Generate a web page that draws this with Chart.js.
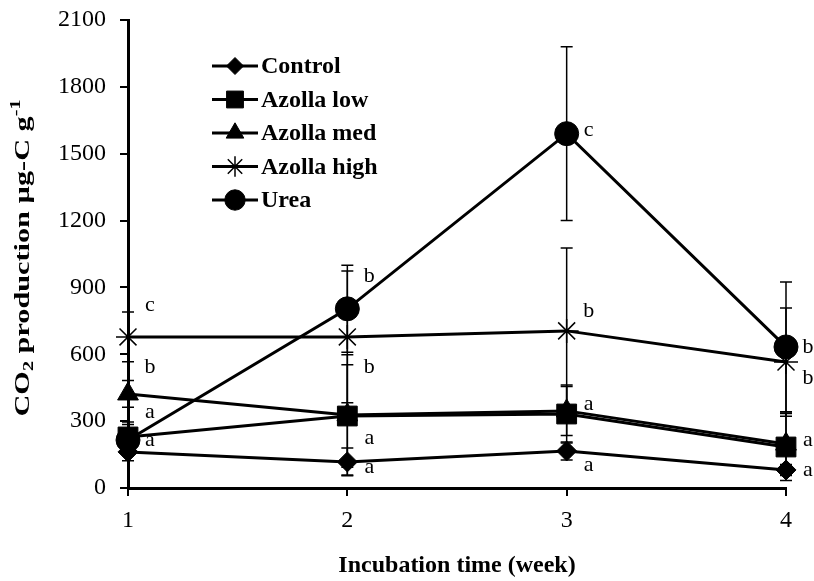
<!DOCTYPE html>
<html>
<head>
<meta charset="utf-8">
<script src="https://cdn.jsdelivr.net/npm/chart.js@4.4.1/dist/chart.umd.min.js"></script>
<style>
  body { margin: 0; background: #fff; }
  #box { width: 814px; height: 581px; position: relative; }
</style>
</head>
<body>
<div id="box"><canvas id="co2"></canvas></div>
<script>
// weekly CO2 production
const weeks = ['1', '2', '3', '4'];

const control = [162, 117, 166, 81];
const azollaLow = [229, 323, 332, 184];
const azollaMed = [422, 328, 346, 197];
const azollaHigh = [678, 678, 705, 565];
const urea = [215, 804, 1590, 633];

// +/- error (half bar length)
const controlErr = [40, 62, 40, 25];
const azollaLowErr = [67, 230, 130, 150];
const azollaMedErr = [60, 270, 110, 140];
const azollaHighErr = [112, 296, 372, 243];
const ureaErr = [70, 195, 390, 291];

// significance letters: week, value where letter sits, letter
const sigWeek = [1, 1, 1, 1, 2, 2, 2, 2, 3, 3, 3, 3, 4, 4, 4, 4];
const sigValue = [821, 543, 341, 215, 951, 543, 224, 94, 1606, 794, 377, 103, 633, 494, 215, 81];
const sigLetter = ['c', 'b', 'a', 'a', 'b', 'b', 'a', 'a', 'c', 'b', 'a', 'a', 'b', 'b', 'a', 'a'];

const serif = "'Liberation Serif', 'Times New Roman', serif";

function series(label, values, errs, style, radius, filled) {
  return {
    label: label,
    data: values,
    errors: errs,
    borderColor: '#000',
    backgroundColor: '#000',
    borderWidth: 3,
    pointStyle: style,
    pointRadius: radius,
    pointBackgroundColor: filled ? '#000' : 'rgba(0,0,0,0)',
    pointBorderColor: '#000',
    pointBorderWidth: filled ? 1 : 1.5,
    tension: 0
  };
}

const errorBars = {
  id: 'errorBars',
  beforeDatasetsDraw(chart) {
    const ctx = chart.ctx;
    const y = chart.scales.y;
    ctx.save();
    ctx.strokeStyle = '#000';
    ctx.lineWidth = 1.5;
    chart.data.datasets.forEach((ds, i) => {
      const meta = chart.getDatasetMeta(i);
      meta.data.forEach((pt, j) => {
        const e = ds.errors[j];
        const top = y.getPixelForValue(ds.data[j] + e);
        const bot = y.getPixelForValue(ds.data[j] - e);
        ctx.beginPath();
        ctx.moveTo(pt.x, top); ctx.lineTo(pt.x, bot);
        ctx.moveTo(pt.x - 6, top); ctx.lineTo(pt.x + 6, top);
        ctx.moveTo(pt.x - 6, bot); ctx.lineTo(pt.x + 6, bot);
        ctx.stroke();
      });
    });
    ctx.restore();
  },
  afterDatasetsDraw(chart) {
    const ctx = chart.ctx;
    const xs = chart.scales.x, ys = chart.scales.y;
    ctx.save();
    ctx.fillStyle = '#000';
    ctx.font = '22px ' + serif;
    ctx.textAlign = 'center';
    ctx.textBaseline = 'middle';
    sigLetter.forEach((t, k) => {
      const px = xs.getPixelForValue(sigWeek[k] - 1) + 22;
      ctx.fillText(t, px, ys.getPixelForValue(sigValue[k]));
    });
    ctx.restore();
  }
};

// legend with a line segment and marker, like the figure
const lineLegend = {
  id: 'lineLegend',
  afterDraw(chart) {
    const ctx = chart.ctx;
    ctx.save();
    ctx.font = 'bold 24px ' + serif;
    ctx.textBaseline = 'middle';
    chart.data.datasets.forEach((ds, i) => {
      const yy = 66 + i * 33.5;
      ctx.strokeStyle = '#000';
      ctx.lineWidth = 3;
      ctx.beginPath();
      ctx.moveTo(212, yy); ctx.lineTo(258, yy);
      ctx.stroke();
      ctx.fillStyle = ds.pointBackgroundColor;
      ctx.lineWidth = ds.pointBorderWidth;
      Chart.helpers.drawPoint(ctx, { pointStyle: ds.pointStyle, radius: ds.pointRadius * 0.85, rotation: 0, borderWidth: ds.pointBorderWidth }, 235, yy);
      ctx.fillStyle = '#000';
      ctx.fillText(ds.label, 261, yy + 1);
    });
    ctx.restore();
  }
};

// y title with real subscript / superscript, stretched along its length
const yTitle = {
  id: 'yTitle',
  afterDraw(chart) {
    const ctx = chart.ctx;
    const big = 'bold 21px ' + serif, small = 'bold 14px ' + serif;
    const parts = [['CO', big, 0], ['2', small, 5], [' production \u00b5g-C g', big, 0], ['-1', small, -8]];
    ctx.save();
    let w = 0;
    parts.forEach(p => { ctx.font = p[1]; w += ctx.measureText(p[0]).width; });
    const sx = 317 / w;
    ctx.translate(24, 258);
    ctx.rotate(-Math.PI / 2);
    ctx.scale(sx, 1);
    ctx.fillStyle = '#000';
    ctx.textBaseline = 'middle';
    let x = -w / 2;
    parts.forEach(p => {
      ctx.font = p[1];
      ctx.fillText(p[0], x, p[2]);
      x += ctx.measureText(p[0]).width;
    });
    ctx.restore();
  }
};

new Chart(document.getElementById('co2'), {
  type: 'line',
  data: {
    labels: weeks,
    datasets: [
      series('Control', control, controlErr, 'rectRot', 10, true),
      series('Azolla low', azollaLow, azollaLowErr, 'rect', 14, true),
      series('Azolla med', azollaMed, azollaMedErr, 'triangle', 12, true),
      series('Azolla high', azollaHigh, azollaHighErr, 'star', 12, false),
      series('Urea', urea, ureaErr, 'circle', 12, true)
    ]
  },
  options: {
    responsive: true,
    maintainAspectRatio: false,
    animation: false,
    layout: { padding: { top: 20, right: 28, left: 0, bottom: 0 } },
    plugins: { legend: { display: false }, tooltip: { enabled: false } },
    scales: {
      x: {
        offset: false,
        afterFit(scale) { scale.height = 93; },
        grid: { drawOnChartArea: false, drawTicks: true, tickLength: 8, color: '#000', lineWidth: 2 },
        border: { display: true, color: '#000', width: 3 },
        ticks: { color: '#000', font: { family: serif, size: 24 }, padding: 10 },
        title: {
          display: true,
          text: 'Incubation time (week)',
          color: '#000',
          font: { family: serif, size: 24, weight: 'bold' },
          padding: { top: 0, bottom: 1 }
        }
      },
      y: {
        min: 0,
        max: 2100,
        afterFit(scale) { scale.width = 128; scale.paddingTop = 0; scale.paddingBottom = 0; },
        grid: { drawOnChartArea: false, drawTicks: true, tickLength: 8, color: '#000', lineWidth: 2 },
        border: { display: true, color: '#000', width: 3 },
        ticks: { stepSize: 300, color: '#000', font: { family: serif, size: 24 }, padding: 14, callback: v => String(v) }
      }
    }
  },
  plugins: [errorBars, lineLegend, yTitle]
});
</script>
</body>
</html>
